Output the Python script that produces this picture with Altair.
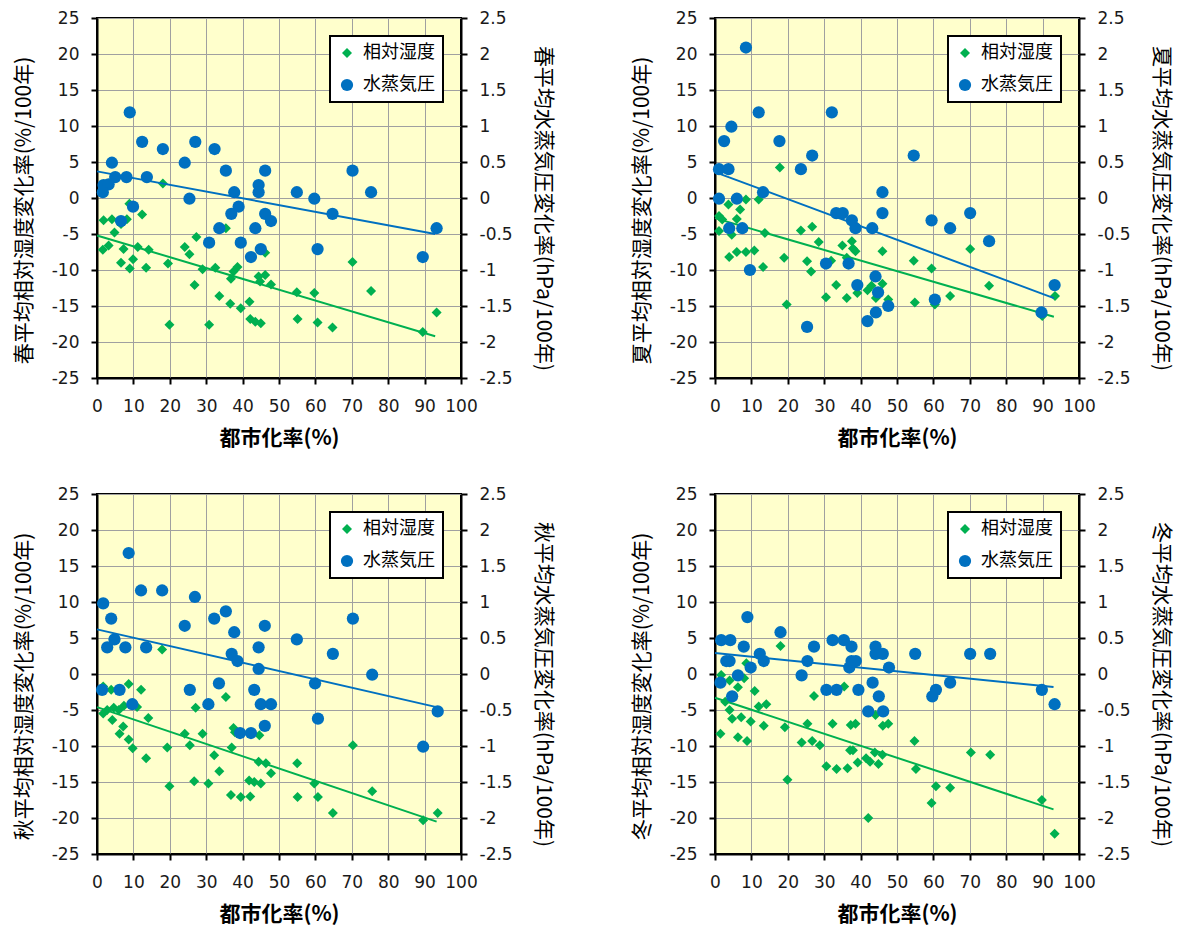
import altair as alt
import pandas as pd

SEASONS = ["春", "夏", "秋", "冬"]
SERIES = ["相対湿度", "水蒸気圧"]
COLORS = ["#00B050", "#0070C0"]
X_TITLE = "都市化率(%)"

# ---- spring ----
H1_X = [1.8,4.1,1.6,3.2,4.8,6.6,8.2,8.9,7.3,6.6,9.0,9.9,11.2,12.4,14.2,13.5,18.1,19.5,19.9,24.1,25.4,27.3,26.8,29.0,30.8,32.5,33.6,35.4,36.8,37.5,38.6,36.6,39.5,41.9,42.1,43.5,45.0,44.4,44.8,46.2,46.2,47.8,54.9,55.1,59.7,60.6,64.7,70.2,75.3,89.5,93.3]
H1_Y = [-3.1,-2.95,-7.2,-6.6,-4.8,-3.6,-2.95,-0.8,-7.1,-9.0,-9.8,-8.5,-6.8,-2.3,-7.2,-9.7,2.0,-9.1,-17.6,-6.8,-7.8,-5.4,-12.1,-9.9,-17.6,-9.7,-13.6,-4.2,-11.2,-10.2,-9.6,-14.7,-15.3,-14.4,-16.8,-17.2,-17.4,-10.9,-11.6,-10.7,-7.6,-12.0,-13.1,-16.8,-13.2,-17.3,-18.0,-8.9,-12.9,-18.6,-15.9]
V1_X = [9.0,12.4,18.1,27.0,32.3,24.1,4.1,5.0,8.1,13.7,1.8,3.2,1.6,9.9,6.6,25.4,35.4,37.7,44.4,44.4,46.2,38.9,36.9,46.2,47.8,33.6,30.8,39.5,43.5,42.3,45.0,54.9,59.7,60.6,64.7,70.2,75.3,89.5,93.3]
V1_Y = [1.19,0.78,0.68,0.78,0.68,0.49,0.49,0.29,0.29,0.29,0.18,0.19,0.08,-0.12,-0.32,-0.01,0.38,0.08,0.18,0.08,0.38,-0.12,-0.22,-0.22,-0.32,-0.42,-0.62,-0.62,-0.42,-0.82,-0.71,0.08,-0.01,-0.71,-0.22,0.38,0.08,-0.82,-0.42]
T1_X = [0.0, 92.9]
T1_H = [-5.2, -19.2]
T1_V = [0.37, -0.50]

# ---- summer ----
H2_X = [1.1,2.0,1.1,3.7,4.6,3.9,6.0,6.9,6.0,8.5,8.5,10.8,12.0,13.7,13.2,17.8,19.0,19.7,23.6,25.3,26.7,26.4,28.5,30.5,31.9,33.3,35.0,36.2,36.2,37.6,37.9,38.6,39.1,41.9,43.0,44.2,46.0,46.0,47.6,54.6,54.9,59.5,60.4,64.6,70.1,75.3,89.9,93.4]
H2_Y = [-2.5,-3.0,-4.6,-0.9,-5.1,-8.2,-2.9,-1.6,-7.5,-7.5,-0.2,-7.3,-0.2,-4.85,-9.6,4.25,-8.3,-14.8,-4.5,-8.8,-4.0,-10.2,-6.1,-13.8,-8.7,-12.1,-6.6,-8.3,-13.9,-6.0,-7.0,-7.4,-13.2,-12.8,-12.2,-13.9,-11.9,-7.4,-14.1,-8.7,-14.5,-9.8,-14.8,-13.6,-7.1,-12.2,-16.4,-13.6]
V2_X = [8.5,12.0,4.5,2.5,17.7,32.1,26.7,23.6,1.1,3.7,54.6,13.2,1.1,6.0,3.9,7.5,9.6,33.3,35.1,37.6,38.6,43.2,46.0,46.0,30.5,36.7,39.1,44.1,44.8,47.6,44.2,41.9,25.3,59.5,64.6,70.1,75.3,60.4,89.7,93.3]
V2_Y = [2.09,1.19,0.99,0.79,0.79,1.19,0.59,0.40,0.40,0.40,0.59,0.08,-0.01,-0.01,-0.42,-0.42,-1.00,-0.21,-0.21,-0.31,-0.42,-0.42,0.08,-0.21,-0.91,-0.91,-1.21,-1.09,-1.31,-1.50,-1.59,-1.71,-1.79,-0.31,-0.42,-0.21,-0.60,-1.41,-1.59,-1.21]
T2_X = [0.0, 93.1]
T2_H = [-2.8, -16.5]
T2_V = [0.36, -1.39]

# ---- autumn ----
H3_X = [1.7,3.9,1.7,2.8,4.6,4.2,6.0,7.4,8.7,6.2,7.2,8.7,9.8,11.0,12.1,14.1,13.5,17.9,19.3,19.9,24.1,25.5,27.1,26.7,29.0,30.6,32.2,33.6,35.4,37.5,37.9,37.0,36.8,39.5,42.1,41.8,43.2,45.0,44.6,44.4,46.4,47.8,55.0,55.1,59.7,60.7,64.8,70.3,75.6,89.6,93.6]
H3_Y = [-1.75,-2.2,-5.5,-5.0,-4.7,-6.4,-5.0,-4.4,-1.4,-8.3,-7.3,-9.1,-10.3,-4.6,-2.2,-6.1,-11.7,3.4,-10.2,-15.6,-8.3,-9.9,-4.7,-14.9,-8.3,-15.2,-11.3,-13.5,-3.2,-7.5,-8.1,-10.2,-16.8,-17.1,-17.0,-14.8,-15.0,-15.2,-8.5,-12.2,-12.4,-13.8,-12.4,-17.1,-15.2,-17.1,-19.3,-9.9,-16.3,-20.3,-19.3]
V3_X = [8.7,12.1,17.9,26.9,1.7,3.9,24.1,32.2,35.4,37.7,46.1,70.3,4.8,2.8,7.8,13.5,54.9,37.0,38.6,44.4,44.4,64.8,75.6,59.9,1.4,6.2,25.5,33.5,43.2,9.7,30.6,45.0,47.8,46.1,39.3,42.3,60.7,89.6,93.6]
V3_Y = [1.68,1.16,1.16,1.07,0.98,0.77,0.67,0.77,0.87,0.58,0.67,0.77,0.48,0.37,0.37,0.37,0.48,0.28,0.18,0.37,0.07,0.28,-0.01,-0.13,-0.22,-0.22,-0.22,-0.13,-0.22,-0.42,-0.42,-0.42,-0.42,-0.72,-0.82,-0.82,-0.62,-1.01,-0.52]
T3_X = [0.0, 93.3]
T3_H = [-4.6, -20.5]
T3_V = [0.62, -0.46]

# ---- winter ----
H4_X = [1.7,1.5,2.8,4.0,4.0,4.7,6.3,6.3,7.2,8.0,8.6,8.8,9.8,10.9,12.0,14.1,13.4,18.0,19.2,19.9,23.8,25.4,26.7,27.2,28.8,30.6,32.3,33.4,35.5,36.4,37.1,37.9,37.3,38.6,39.2,41.5,42.6,42.1,44.1,43.9,44.9,46.0,46.1,47.6,54.8,55.2,59.5,60.7,64.6,70.3,75.6,89.8,93.3]
H4_Y = [-0.15,-8.3,-3.85,-0.9,-5.0,-6.2,-1.85,-8.8,-6.0,-0.6,1.5,-9.3,-6.6,-2.35,-4.5,-4.2,-7.2,3.9,-7.4,-14.7,-9.5,-6.9,-9.3,-3.05,-9.9,-12.8,-6.9,-13.2,-1.75,-13.1,-10.6,-10.6,-7.1,-6.9,-12.3,-11.7,-12.2,-20.0,-5.7,-10.9,-12.5,-11.2,-7.2,-6.9,-9.3,-13.2,-17.9,-15.6,-15.8,-10.9,-11.2,-17.5,-22.2]
V4_X = [8.9,18.0,1.7,4.2,32.3,35.4,7.9,27.2,37.5,44.1,12.3,44.1,46.1,55.0,70.1,75.6,3.1,4.0,13.4,25.4,37.5,38.7,9.8,36.9,47.8,6.3,23.8,1.5,43.3,64.6,30.6,33.4,39.4,60.7,89.8,4.7,45.0,59.7,42.1,46.2,93.3]
V4_Y = [0.79,0.58,0.47,0.47,0.47,0.47,0.38,0.38,0.38,0.38,0.28,0.28,0.28,0.28,0.28,0.28,0.18,0.18,0.18,0.18,0.18,0.18,0.09,0.09,0.09,-0.02,-0.02,-0.12,-0.12,-0.12,-0.22,-0.22,-0.22,-0.22,-0.22,-0.31,-0.31,-0.31,-0.52,-0.52,-0.42]
T4_X = [0.0, 93.0]
T4_H = [-3.3, -18.8]
T4_V = [0.29, -0.18]

PANELS = [
    (H1_X, H1_Y, V1_X, V1_Y, T1_X, T1_H, T1_V),
    (H2_X, H2_Y, V2_X, V2_Y, T2_X, T2_H, T2_V),
    (H3_X, H3_Y, V3_X, V3_Y, T3_X, T3_H, T3_V),
    (H4_X, H4_Y, V4_X, V4_Y, T4_X, T4_H, T4_V),
]

X_TICKS = list(range(0, 101, 10))
L_TICKS = list(range(-25, 26, 5))
R_TICKS = [v / 2 for v in range(-5, 6)]

LABEL_FONT = "DejaVu Sans"
CJK = "Noto Sans CJK JP"

W, H = 364, 360


def make_panel(season, hx, hy, vx, vy, tx, th, tv):
    dh = pd.DataFrame({"x": hx, "y": hy, "s": SERIES[0]})
    dv = pd.DataFrame({"x": vx, "y": vy, "s": SERIES[1]})
    dth = pd.DataFrame({"x": tx, "y": th})
    dtv = pd.DataFrame({"x": tx, "y": tv})

    xenc = alt.X("x:Q", scale=alt.Scale(domain=[0, 100], nice=False),
                 axis=alt.Axis(values=X_TICKS, title=X_TITLE, grid=True,
                               labelPadding=14, titlePadding=13,
                               titleFontWeight="bold", labelFlush=False,
                               labelOverlap=False))
    yl = alt.Y("y:Q", scale=alt.Scale(domain=[-25, 25], nice=False, zero=False),
               axis=alt.Axis(values=L_TICKS, orient="left", grid=True,
                             title=f"{season}平均相対湿度変化率(%/100年)",
                             labelExpr="'' + datum.value", labelPadding=12,
                             titlePadding=17, labelOverlap=False, titleY=192))
    yr = alt.Y("y:Q", scale=alt.Scale(domain=[-2.5, 2.5], nice=False, zero=False),
               axis=alt.Axis(values=R_TICKS, orient="right", grid=False,
                             title=f"{season}平均水蒸気圧変化率(hPa/100年)",
                             labelExpr="'' + datum.value", labelPadding=12,
                             titlePadding=20, labelOverlap=False, titleY=190))

    leg = alt.Legend(title=None, orient="none", legendX=233, legendY=18,
                     strokeColor="black", fillColor="white", padding=8,
                     rowPadding=14, labelOffset=7, labelFont=CJK,
                     labelFontSize=18, labelColor="black")
    color = alt.Color("s:N", scale=alt.Scale(domain=SERIES, range=COLORS), legend=leg)
    shape = alt.Shape("s:N", scale=alt.Scale(domain=SERIES, range=["diamond", "circle"]), legend=leg)
    size = alt.Size("s:N", scale=alt.Scale(domain=SERIES, range=[100, 150]), legend=leg)

    gp = alt.Chart(dh).mark_point(filled=True, opacity=1, strokeWidth=0).encode(
        x=xenc, y=yl, color=color, shape=shape, size=size)
    gl = alt.Chart(dth).mark_line(color=COLORS[0], strokeWidth=2).encode(x=xenc, y=yl)
    bp = alt.Chart(dv).mark_point(filled=True, opacity=1, strokeWidth=0).encode(
        x=xenc, y=yr, color=color, shape=shape, size=size)
    bl = alt.Chart(dtv).mark_line(color=COLORS[1], strokeWidth=2).encode(x=xenc, y=yr)

    return alt.layer(alt.layer(gp, gl), alt.layer(bp, bl)).resolve_scale(
        y="independent").properties(width=W, height=H)


charts = [make_panel(SEASONS[i], *PANELS[i]) for i in range(4)]

chart = alt.concat(*charts, columns=2, spacing={"row": 35, "column": 75}).resolve_scale(
    color="independent", shape="independent", size="independent"
).properties(
    padding={"left": 12, "top": 8, "right": 5, "bottom": 5},
    background="white",
).configure_view(
    fill="#FFFFCC", stroke="black", strokeWidth=2
).configure_axis(
    domainColor="black", domainWidth=2, tickColor="black", tickWidth=2,
    tickSize=6, labelFont=LABEL_FONT, labelFontSize=17, labelColor="#1a1a1a",
    gridColor="#A0A0A0", gridWidth=1, titleFont=CJK, titleFontSize=21,
    titleFontWeight="normal", titleColor="black"
).configure_legend(
    strokeWidth=2
)

chart.save("out.html", embed_options={"renderer": "svg", "actions": False})
